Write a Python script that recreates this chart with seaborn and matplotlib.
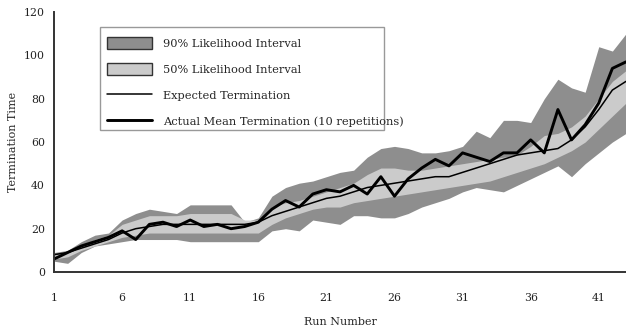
import numpy as np
import pandas as pd
import matplotlib
matplotlib.use("Agg")
import matplotlib.pyplot as plt
import seaborn as sns
from matplotlib.patches import Patch, Rectangle
from matplotlib.lines import Line2D

runs = list(range(1, 44))

actual = [6, 9, 12, 14, 16, 19, 15, 22, 23, 21, 24, 21, 22, 20, 21, 23, 29, 33, 30, 36,
          38, 37, 40, 36, 44, 35, 43, 48, 52, 49, 55, 53, 51, 55, 55, 61, 55, 75, 61, 68,
          78, 94, 97]
expected = [8, 9, 11, 13, 15, 18, 20, 21, 22, 22, 22, 22, 22, 22, 22, 23, 26, 28, 30, 32,
            34, 35, 37, 39, 40, 41, 42, 43, 44, 44, 46, 48, 50, 52, 54, 55, 56, 57, 61, 67,
            75, 84, 88]
upper90 = [9, 10, 14, 17, 18, 24, 27, 29, 28, 27, 31, 31, 31, 31, 23, 25, 35, 39, 41, 42,
           44, 46, 47, 53, 57, 58, 57, 55, 55, 56, 58, 65, 62, 70, 70, 69, 80, 89, 85, 83,
           104, 102, 110]
lower90 = [5, 4, 9, 12, 13, 14, 15, 15, 15, 15, 14, 14, 14, 14, 14, 14, 19, 20, 19, 24,
           23, 22, 26, 26, 25, 25, 27, 30, 32, 34, 37, 39, 38, 37, 40, 43, 46, 49, 44, 50,
           55, 60, 64]
upper50 = [8, 9, 12, 15, 17, 22, 24, 26, 26, 26, 27, 27, 27, 27, 24, 24, 30, 32, 33, 35,
           37, 39, 41, 45, 48, 48, 47, 47, 48, 49, 50, 51, 52, 53, 54, 58, 63, 64, 67, 72,
           80, 88, 93]
lower50 = [6, 7, 10, 12, 14, 16, 17, 18, 18, 18, 18, 18, 18, 18, 18, 18, 22, 25, 27, 29,
           30, 30, 32, 33, 34, 35, 36, 37, 38, 39, 40, 41, 42, 44, 46, 48, 50, 53, 56, 60,
           66, 72, 78]

xtick_labels = [1, 6, 11, 16, 21, 26, 31, 36, 41]
ytick_values = [0, 20, 40, 60, 80, 100, 120]

df = pd.DataFrame({"run": runs, "actual": actual, "expected": expected,
                   "u90": upper90, "l90": lower90, "u50": upper50, "l50": lower50})

sns.set_style("white")
plt.rcParams["font.family"] = ["DejaVu Serif"]

fig = plt.figure(figsize=(6.26, 3.35), dpi=100)
ax = fig.add_axes([0.0863, 0.188, 0.9137, 0.776])

dark = "#8e8e8e"
light = "#cbcbcb"
ax.fill_between(df["run"], df["l90"], df["u90"], color=dark, lw=0)
ax.fill_between(df["run"], df["l50"], df["u50"], color=light, lw=0)
sns.lineplot(data=df, x="run", y="expected", ax=ax, color="black", lw=1.1)
sns.lineplot(data=df, x="run", y="actual", ax=ax, color="black", lw=2.1)

ax.set_xlim(1, 42.75)
ax.set_ylim(0, 120)
ax.set_xticks(runs)
ax.set_xticklabels([str(r) if r in xtick_labels else "" for r in runs])
ax.set_yticks(ytick_values)
ax.tick_params(axis="both", direction="inout", length=6, width=1, color="#333333",
               labelsize=7.8, colors="#222222")
ax.tick_params(axis="x", pad=12)
for side in ["top", "right"]:
    ax.spines[side].set_visible(False)
for side in ["left", "bottom"]:
    ax.spines[side].set_color("#333333")
    ax.spines[side].set_linewidth(1.4)

ax.set_xlabel("Run Number", fontsize=8, labelpad=10)
ax.set_ylabel("Termination Time", fontsize=8, labelpad=4)

# legend frame
ax.add_patch(Rectangle((0.0804, 0.546), 0.4966, 0.396, transform=ax.transAxes,
                       facecolor="white", edgecolor="#999999", lw=1.0, zorder=4))

handles = [Patch(facecolor=dark, edgecolor="#333333", lw=1.0),
           Patch(facecolor=light, edgecolor="#333333", lw=1.0),
           Line2D([0], [0], color="black", lw=1.1),
           Line2D([0], [0], color="black", lw=2.1)]
labels = ["90% Likelihood Interval", "50% Likelihood Interval",
          "Expected Termination", "Actual Mean Termination (10 repetitions)"]
leg = ax.legend(handles, labels, loc="upper left", bbox_to_anchor=(0.0927, 0.905),
                fontsize=8.2, frameon=False, handlelength=3.95, handleheight=1.3,
                labelspacing=1.2, borderpad=0.0, borderaxespad=0.0, handletextpad=0.95)
leg.set_zorder(5)

fig.savefig("out.png", dpi=100)
